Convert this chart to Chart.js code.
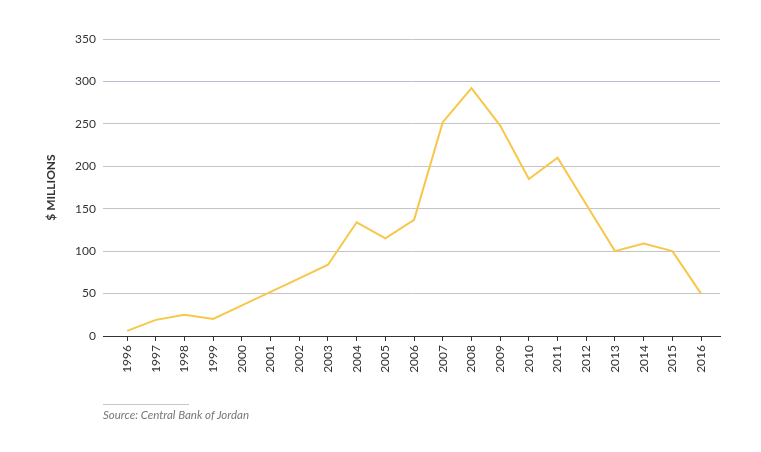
<!DOCTYPE html>
<html>
<head>
<meta charset="utf-8">
<script src="https://cdn.jsdelivr.net/npm/chart.js@4"></script>
<style>
    html, body { margin: 0; padding: 0; background: #fff; }
    #wrap { position: relative; width: 761px; height: 452px; }
    #source {
        position: absolute; left: 103px; top: 404px;
        border-top: 1px solid #c8c8c8; width: 86px; padding-top: 3px;
        font: italic 11.5px "Lato", sans-serif; color: #777; white-space: nowrap;
    }
</style>
</head>
<body>
<div id="wrap">
    <canvas id="fdiChart" width="761" height="452"></canvas>
    <div id="source">Source: Central Bank of Jordan</div>
</div>
<script>
const years = [1996, 1997, 1998, 1999, 2000, 2001, 2002, 2003, 2004, 2005, 2006,
    2007, 2008, 2009, 2010, 2011, 2012, 2013, 2014, 2015, 2016];
const values = [6, 19, 25, 20, 36, 52, 68, 84, 134, 115, 137,
    252, 292, 248, 185, 210, 155, 100, 109, 100, 50];
const yTicks = [0, 50, 100, 150, 200, 250, 300, 350];

const points = years.map((year, i) => ({ x: year, y: values[i] }));

const ctx = document.getElementById('fdiChart').getContext('2d');
new Chart(ctx, {
    type: 'line',
    data: {
        datasets: [{
            data: points,
            borderColor: '#f8c74a',
            borderWidth: 2,
            pointRadius: 0,
            tension: 0,
            fill: false
        }]
    },
    options: {
        responsive: false,
        animation: false,
        layout: { padding: { left: 44, right: 41, top: 39, bottom: 0 } },
        plugins: {
            legend: { display: false },
            tooltip: { enabled: false }
        },
        scales: {
            x: {
                type: 'linear',
                min: 1995.16,
                max: 2016.66,
                afterBuildTicks: (scale) => {
                    scale.ticks = years.map(y => ({ value: y }));
                },
                afterFit: (scale) => { scale.height = 116; },
                ticks: {
                    autoSkip: false,
                    maxRotation: 90,
                    minRotation: 90,
                    padding: 4,
                    color: '#333',
                    font: { family: 'Lato', size: 12 },
                    callback: (value) => String(value)
                },
                grid: {
                    drawOnChartArea: false,
                    drawTicks: true,
                    tickLength: 5,
                    color: '#333'
                },
                border: { display: true, color: '#333', width: 1 }
            },
            y: {
                min: 0,
                max: 350,
                afterBuildTicks: (scale) => {
                    scale.ticks = yTicks.map(v => ({ value: v }));
                },
                afterFit: (scale) => { scale.width = 59; },
                ticks: {
                    padding: 7,
                    color: '#333',
                    font: { family: 'Lato', size: 12 }
                },
                grid: {
                    drawTicks: false,
                    color: (c) => c.tick && c.tick.value === 300 ? '#bcbcd0' : '#c4c4c8',
                    lineWidth: (c) => c.tick && c.tick.value === 0 ? 0 : 1
                },
                border: { display: false },
                title: {
                    display: true,
                    text: '$ MILLIONS',
                    color: '#333',
                    padding: { top: 0, bottom: 0 },
                    font: { family: 'Lato', size: 12, weight: 'bold' }
                }
            }
        }
    }
});
</script>
</body>
</html>
